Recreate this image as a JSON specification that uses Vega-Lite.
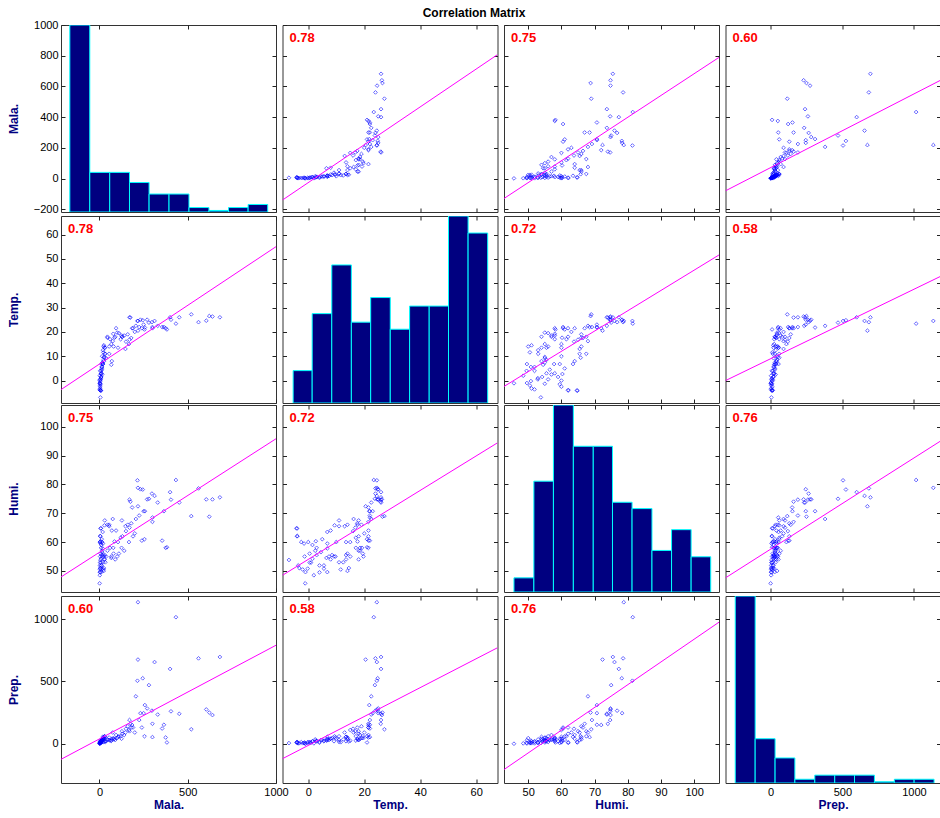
{
"$schema":"https://vega.github.io/schema/vega-lite/v6.json",
"padding":{"left":6,"top":6,"right":0,"bottom":0},
"background":"#ffffff",
"title":{"text":"Correlation Matrix","anchor":"middle","frame":"bounds","offset":-1,"dx":0,"color":"#000000","font":"Liberation Sans","fontSize":12,"fontWeight":"bold"},
"config":{
 "view":{"stroke":"#333333","strokeWidth":1},
 "axis":{"domain":false,"grid":false,"tickSize":-4,"tickColor":"#222222","labelPadding":7,"labelFont":"Liberation Sans","labelFontSize":11,"labelColor":"#000000","titleFont":"Liberation Sans","titleFontSize":12,"titleFontWeight":"bold","titleColor":"#000080","labelFlush":false,"labelOverlap":false,"minExtent":0,"format":"d"},
 "title":{"anchor":"start","frame":"group","offset":-20,"dx":7,"color":"#ff0000","font":"Liberation Sans","fontSize":13,"fontWeight":"bold"}
},
"datasets":{"obs":[
{"Mala":682,"Temp":26,"Humi":75.5,"Prep":696},{"Mala":640,"Temp":26.3,"Humi":74.8,"Prep":230},{"Mala":622,"Temp":26.5,"Humi":68.8,"Prep":250},{"Mala":605,"Temp":24.6,"Humi":74.8,"Prep":275},{"Mala":561,"Temp":24,"Humi":78.6,"Prep":685},
{"Mala":520,"Temp":27.2,"Humi":69,"Prep":116},{"Mala":452,"Temp":26,"Humi":73.7,"Prep":240},{"Mala":433,"Temp":23.4,"Humi":81.5,"Prep":1015},{"Mala":400,"Temp":26,"Humi":77.3,"Prep":600},{"Mala":405,"Temp":25,"Humi":74.7,"Prep":260},
{"Mala":382,"Temp":21,"Humi":58.2,"Prep":10},{"Mala":375,"Temp":21.5,"Humi":58,"Prep":50},{"Mala":355,"Temp":22,"Humi":60.5,"Prep":122},{"Mala":365,"Temp":22,"Humi":70.7,"Prep":152},{"Mala":330,"Temp":22.5,"Humi":73.7,"Prep":234},
{"Mala":312,"Temp":24.5,"Humi":76,"Prep":655},{"Mala":300,"Temp":21.5,"Humi":67,"Prep":160},{"Mala":297,"Temp":24,"Humi":76.8,"Prep":265},{"Mala":300,"Temp":22,"Humi":68.5,"Prep":53},{"Mala":280,"Temp":23.8,"Humi":75,"Prep":470},
{"Mala":270,"Temp":25,"Humi":74.8,"Prep":283},{"Mala":257,"Temp":21.8,"Humi":70.7,"Prep":310},{"Mala":250,"Temp":23,"Humi":70.7,"Prep":245},{"Mala":245,"Temp":24.8,"Humi":78.2,"Prep":525},{"Mala":240,"Temp":21.5,"Humi":60.5,"Prep":130},
{"Mala":232,"Temp":25,"Humi":78.3,"Prep":245},{"Mala":225,"Temp":22,"Humi":69.2,"Prep":190},{"Mala":218,"Temp":24.5,"Humi":78.8,"Prep":1135},{"Mala":215,"Temp":24.5,"Humi":81.4,"Prep":505},{"Mala":218,"Temp":20.5,"Humi":72.4,"Prep":675},
{"Mala":206,"Temp":22.5,"Humi":68,"Prep":380},{"Mala":185,"Temp":21.5,"Humi":72,"Prep":150},{"Mala":175,"Temp":25.9,"Humi":74,"Prep":160},{"Mala":170,"Temp":26,"Humi":74.7,"Prep":190},{"Mala":255,"Temp":21,"Humi":61,"Prep":60},
{"Mala":200,"Temp":20,"Humi":63,"Prep":90},{"Mala":190,"Temp":21.5,"Humi":62,"Prep":130},{"Mala":170,"Temp":16.8,"Humi":65,"Prep":100},{"Mala":167,"Temp":15,"Humi":60,"Prep":110},{"Mala":147,"Temp":13,"Humi":65.5,"Prep":90},
{"Mala":140,"Temp":18.5,"Humi":57,"Prep":70},{"Mala":130,"Temp":18,"Humi":62,"Prep":80},{"Mala":125,"Temp":18.5,"Humi":58,"Prep":40},{"Mala":120,"Temp":17,"Humi":61.5,"Prep":60},{"Mala":127,"Temp":18,"Humi":67.5,"Prep":100},
{"Mala":110,"Temp":19.5,"Humi":56,"Prep":60},{"Mala":100,"Temp":19.7,"Humi":55,"Prep":45},{"Mala":105,"Temp":13.5,"Humi":60,"Prep":55},{"Mala":94,"Temp":21.5,"Humi":64,"Prep":70},{"Mala":89,"Temp":18,"Humi":54,"Prep":30},
{"Mala":85,"Temp":17.6,"Humi":60.2,"Prep":40},{"Mala":80,"Temp":14,"Humi":56,"Prep":35},{"Mala":78,"Temp":19.2,"Humi":58,"Prep":45},{"Mala":70,"Temp":8,"Humi":64,"Prep":40},{"Mala":67,"Temp":6.5,"Humi":54.5,"Prep":25},
{"Mala":67,"Temp":15,"Humi":55,"Prep":25},{"Mala":75,"Temp":16.2,"Humi":68,"Prep":90},{"Mala":60,"Temp":17,"Humi":58,"Prep":25},{"Mala":55,"Temp":14,"Humi":66,"Prep":50},{"Mala":55,"Temp":11,"Humi":65.5,"Prep":30},
{"Mala":45,"Temp":17.6,"Humi":66,"Prep":35},{"Mala":45,"Temp":18,"Humi":57,"Prep":30},{"Mala":38,"Temp":9.2,"Humi":55,"Prep":20},{"Mala":33,"Temp":11,"Humi":53,"Prep":15},{"Mala":30,"Temp":13.5,"Humi":55.5,"Prep":20},
{"Mala":25,"Temp":14.5,"Humi":51,"Prep":18},{"Mala":22,"Temp":11.6,"Humi":50.5,"Prep":12},{"Mala":150,"Temp":16,"Humi":63.8,"Prep":120},{"Mala":160,"Temp":19,"Humi":66,"Prep":140},{"Mala":180,"Temp":17.5,"Humi":66.5,"Prep":130},
{"Mala":5,"Temp":-6.9,"Humi":53.8,"Prep":5},{"Mala":8,"Temp":-4.2,"Humi":64.8,"Prep":10},{"Mala":3,"Temp":-3.9,"Humi":62.1,"Prep":8},{"Mala":2,"Temp":-3.6,"Humi":51.9,"Prep":3},{"Mala":4,"Temp":-2.5,"Humi":60,"Prep":12},
{"Mala":6,"Temp":-1.5,"Humi":59.5,"Prep":6},{"Mala":2,"Temp":0,"Humi":60,"Prep":15},{"Mala":10,"Temp":1.5,"Humi":59,"Prep":20},{"Mala":7,"Temp":2.7,"Humi":60.3,"Prep":25},{"Mala":1,"Temp":-1.1,"Humi":45.7,"Prep":0},
{"Mala":3,"Temp":-2,"Humi":50.5,"Prep":4},{"Mala":2,"Temp":-1,"Humi":49.6,"Prep":2},{"Mala":5,"Temp":-0.2,"Humi":50.8,"Prep":7},{"Mala":4,"Temp":-1.3,"Humi":55,"Prep":10},{"Mala":6,"Temp":0.5,"Humi":56,"Prep":14},
{"Mala":9,"Temp":1.5,"Humi":54.2,"Prep":18},{"Mala":12,"Temp":3,"Humi":55.5,"Prep":22},{"Mala":14,"Temp":4.5,"Humi":56.5,"Prep":30},{"Mala":3,"Temp":0.5,"Humi":52.9,"Prep":5},{"Mala":8,"Temp":1,"Humi":52.9,"Prep":9},
{"Mala":10,"Temp":4,"Humi":51.9,"Prep":16},{"Mala":12,"Temp":5.6,"Humi":51.9,"Prep":20},{"Mala":15,"Temp":5.6,"Humi":50.8,"Prep":25},{"Mala":11,"Temp":6.8,"Humi":49.6,"Prep":28},{"Mala":18,"Temp":6.8,"Humi":57.8,"Prep":35},
{"Mala":20,"Temp":6.8,"Humi":59.5,"Prep":40},{"Mala":16,"Temp":7.4,"Humi":55,"Prep":30},{"Mala":22,"Temp":8.5,"Humi":55.5,"Prep":45},{"Mala":25,"Temp":9.7,"Humi":55,"Prep":50},{"Mala":28,"Temp":9.4,"Humi":65.8,"Prep":60},
{"Mala":18,"Temp":6.8,"Humi":63.5,"Prep":55},{"Mala":20,"Temp":12.5,"Humi":53,"Prep":35},{"Mala":15,"Temp":10,"Humi":60,"Prep":40},{"Mala":9,"Temp":3,"Humi":58,"Prep":20},{"Mala":13,"Temp":5,"Humi":61,"Prep":30},
{"Mala":6,"Temp":-4,"Humi":62,"Prep":10},{"Mala":7,"Temp":-4,"Humi":64.7,"Prep":15},{"Mala":4,"Temp":-3.2,"Humi":51,"Prep":4},{"Mala":24,"Temp":14,"Humi":50,"Prep":45},{"Mala":30,"Temp":13.5,"Humi":54,"Prep":55},
{"Mala":26,"Temp":8,"Humi":54,"Prep":40},{"Mala":2,"Temp":2,"Humi":48.5,"Prep":3},{"Mala":4,"Temp":4,"Humi":49.5,"Prep":8},{"Mala":15,"Temp":2.5,"Humi":57,"Prep":35},{"Mala":30,"Temp":11,"Humi":67.5,"Prep":60}
]},
"vconcat":[
{"hconcat":[
 {"width":215,"height":187,"layer":[
  {"data":{"values":[{"lo":-168,"hi":-55,"n":1000},{"lo":-55,"hi":58,"n":40},{"lo":58,"hi":170,"n":40},{"lo":170,"hi":281,"n":-26},{"lo":281,"hi":394,"n":-101},{"lo":394,"hi":507,"n":-101},{"lo":507,"hi":620,"n":-189},{"lo":620,"hi":731,"n":-208},{"lo":731,"hi":842,"n":-189},{"lo":842,"hi":953,"n":-169}]},
   "mark":{"type":"bar","color":"#000080","stroke":"#00ffff","strokeWidth":1,"clip":true},
   "encoding":{"x":{"field":"lo","type":"quantitative","scale":{"domain":[-218,1000],"nice":false,"zero":false},"axis":{"orient":"bottom","values":[0,500,1000],"labels":false,"title":null}},"x2":{"field":"hi"},
    "y":{"field":"n","type":"quantitative","scale":{"domain":[-218,1000],"nice":false,"zero":false},"axis":{"orient":"left","values":[-200,0,200,400,600,800,1000],"title":"Mala.","minExtent":37,"maxExtent":37,"titlePadding":4}},"y2":{"datum":-218}}},
  {"data":{"values":[{"lo":-168,"n":1000}]},"mark":{"type":"tick","opacity":0},
   "encoding":{"x":{"field":"lo","type":"quantitative","scale":{"domain":[-218,1000],"nice":false,"zero":false},"axis":{"orient":"top","values":[0,500,1000],"labels":false,"title":null}},
    "y":{"field":"n","type":"quantitative","scale":{"domain":[-218,1000],"nice":false,"zero":false},"axis":{"orient":"right","values":[-200,0,200,400,600,800,1000],"labels":false,"title":null}}}}
 ],"resolve":{"axis":{"x":"independent","y":"independent"}}},
 {"width":215,"height":187,"title":"0.78","layer":[
  {"data":{"name":"obs"},"mark":{"type":"point","shape":"diamond","size":14,"filled":false,"color":"#0000ff","opacity":0.6,"strokeWidth":1,"clip":true},
   "encoding":{"x":{"field":"Temp","type":"quantitative","scale":{"domain":[-9.2,67.6],"nice":false,"zero":false},"axis":{"orient":"bottom","values":[0,20,40,60],"labels":false,"title":null}},
    "y":{"field":"Mala","type":"quantitative","scale":{"domain":[-218,1000],"nice":false,"zero":false},"axis":{"orient":"left","values":[-200,0,200,400,600,800,1000],"labels":false,"title":null}}}},
  {"data":{"values":[{"Temp":-9.2,"Mala":-140},{"Temp":67.6,"Mala":807}]},"mark":{"type":"line","color":"#ff00ff","strokeWidth":1,"clip":true},
   "encoding":{"x":{"field":"Temp","type":"quantitative","scale":{"domain":[-9.2,67.6],"nice":false,"zero":false},"axis":{"orient":"top","values":[0,20,40,60],"labels":false,"title":null}},
    "y":{"field":"Mala","type":"quantitative","scale":{"domain":[-218,1000],"nice":false,"zero":false},"axis":{"orient":"right","values":[-200,0,200,400,600,800,1000],"labels":false,"title":null}}}}
 ],"resolve":{"axis":{"x":"independent","y":"independent"}}},
 {"width":215,"height":187,"title":"0.75","layer":[
  {"data":{"name":"obs"},"mark":{"type":"point","shape":"diamond","size":14,"filled":false,"color":"#0000ff","opacity":0.6,"strokeWidth":1,"clip":true},
   "encoding":{"x":{"field":"Humi","type":"quantitative","scale":{"domain":[42.7,107.5],"nice":false,"zero":false},"axis":{"orient":"bottom","values":[50,60,70,80,90,100],"labels":false,"title":null}},
    "y":{"field":"Mala","type":"quantitative","scale":{"domain":[-218,1000],"nice":false,"zero":false},"axis":{"orient":"left","values":[-200,0,200,400,600,800,1000],"labels":false,"title":null}}}},
  {"data":{"values":[{"Humi":42.7,"Mala":-130},{"Humi":107.5,"Mala":789}]},"mark":{"type":"line","color":"#ff00ff","strokeWidth":1,"clip":true},
   "encoding":{"x":{"field":"Humi","type":"quantitative","scale":{"domain":[42.7,107.5],"nice":false,"zero":false},"axis":{"orient":"top","values":[50,60,70,80,90,100],"labels":false,"title":null}},
    "y":{"field":"Mala","type":"quantitative","scale":{"domain":[-218,1000],"nice":false,"zero":false},"axis":{"orient":"right","values":[-200,0,200,400,600,800,1000],"labels":false,"title":null}}}}
 ],"resolve":{"axis":{"x":"independent","y":"independent"}}},
 {"width":215,"height":187,"title":"0.60","layer":[
  {"data":{"name":"obs"},"mark":{"type":"point","shape":"diamond","size":14,"filled":false,"color":"#0000ff","opacity":0.6,"strokeWidth":1,"clip":true},
   "encoding":{"x":{"field":"Prep","type":"quantitative","scale":{"domain":[-315,1185],"nice":false,"zero":false},"axis":{"orient":"bottom","values":[0,500,1000],"labels":false,"title":null}},
    "y":{"field":"Mala","type":"quantitative","scale":{"domain":[-218,1000],"nice":false,"zero":false},"axis":{"orient":"left","values":[-200,0,200,400,600,800,1000],"labels":false,"title":null}}}},
  {"data":{"values":[{"Prep":-315,"Mala":-80},{"Prep":1185,"Mala":640}]},"mark":{"type":"line","color":"#ff00ff","strokeWidth":1,"clip":true},
   "encoding":{"x":{"field":"Prep","type":"quantitative","scale":{"domain":[-315,1185],"nice":false,"zero":false},"axis":{"orient":"top","values":[0,500,1000],"labels":false,"title":null}},
    "y":{"field":"Mala","type":"quantitative","scale":{"domain":[-218,1000],"nice":false,"zero":false},"axis":{"orient":"right","values":[-200,0,200,400,600,800,1000],"labels":false,"title":null}}}}
 ],"resolve":{"axis":{"x":"independent","y":"independent"}}}
],"spacing":6.5,"bounds":"flush"},
{"hconcat":[
 {"width":215,"height":187,"title":"0.78","layer":[
  {"data":{"name":"obs"},"mark":{"type":"point","shape":"diamond","size":14,"filled":false,"color":"#0000ff","opacity":0.6,"strokeWidth":1,"clip":true},
   "encoding":{"x":{"field":"Mala","type":"quantitative","scale":{"domain":[-218,1000],"nice":false,"zero":false},"axis":{"orient":"bottom","values":[0,500,1000],"labels":false,"title":null}},
    "y":{"field":"Temp","type":"quantitative","scale":{"domain":[-9.2,67.6],"nice":false,"zero":false},"axis":{"orient":"left","values":[0,10,20,30,40,50,60],"title":"Temp.","minExtent":37,"maxExtent":37,"titlePadding":4}}}},
  {"data":{"values":[{"Mala":-218,"Temp":-3.7},{"Mala":1000,"Temp":55}]},"mark":{"type":"line","color":"#ff00ff","strokeWidth":1,"clip":true},
   "encoding":{"x":{"field":"Mala","type":"quantitative","scale":{"domain":[-218,1000],"nice":false,"zero":false},"axis":{"orient":"top","values":[0,500,1000],"labels":false,"title":null}},
    "y":{"field":"Temp","type":"quantitative","scale":{"domain":[-9.2,67.6],"nice":false,"zero":false},"axis":{"orient":"right","values":[0,10,20,30,40,50,60],"labels":false,"title":null}}}}
 ],"resolve":{"axis":{"x":"independent","y":"independent"}}},
 {"width":215,"height":187,"layer":[
  {"data":{"values":[{"lo":-5.4,"hi":1.4,"n":4.1},{"lo":1.4,"hi":8.4,"n":27.5},{"lo":8.4,"hi":15.4,"n":47.5},{"lo":15.4,"hi":22.3,"n":24},{"lo":22.3,"hi":29.3,"n":34.1},{"lo":29.3,"hi":36.2,"n":21.1},{"lo":36.2,"hi":43.2,"n":30.6},{"lo":43.2,"hi":50.1,"n":30.6},{"lo":50.1,"hi":57.1,"n":67.6},{"lo":57.1,"hi":64.1,"n":60.6}]},
   "mark":{"type":"bar","color":"#000080","stroke":"#00ffff","strokeWidth":1,"clip":true},
   "encoding":{"x":{"field":"lo","type":"quantitative","scale":{"domain":[-9.2,67.6],"nice":false,"zero":false},"axis":{"orient":"bottom","values":[0,20,40,60],"labels":false,"title":null}},"x2":{"field":"hi"},
    "y":{"field":"n","type":"quantitative","scale":{"domain":[-9.2,67.6],"nice":false,"zero":false},"axis":{"orient":"left","values":[0,10,20,30,40,50,60],"labels":false,"title":null}},"y2":{"datum":-9.2}}},
  {"data":{"values":[{"lo":-5.4,"n":4.1}]},"mark":{"type":"tick","opacity":0},
   "encoding":{"x":{"field":"lo","type":"quantitative","scale":{"domain":[-9.2,67.6],"nice":false,"zero":false},"axis":{"orient":"top","values":[0,20,40,60],"labels":false,"title":null}},
    "y":{"field":"n","type":"quantitative","scale":{"domain":[-9.2,67.6],"nice":false,"zero":false},"axis":{"orient":"right","values":[0,10,20,30,40,50,60],"labels":false,"title":null}}}}
 ],"resolve":{"axis":{"x":"independent","y":"independent"}}},
 {"width":215,"height":187,"title":"0.72","layer":[
  {"data":{"name":"obs"},"mark":{"type":"point","shape":"diamond","size":14,"filled":false,"color":"#0000ff","opacity":0.6,"strokeWidth":1,"clip":true},
   "encoding":{"x":{"field":"Humi","type":"quantitative","scale":{"domain":[42.7,107.5],"nice":false,"zero":false},"axis":{"orient":"bottom","values":[50,60,70,80,90,100],"labels":false,"title":null}},
    "y":{"field":"Temp","type":"quantitative","scale":{"domain":[-9.2,67.6],"nice":false,"zero":false},"axis":{"orient":"left","values":[0,10,20,30,40,50,60],"labels":false,"title":null}}}},
  {"data":{"values":[{"Humi":42.7,"Temp":-2.4},{"Humi":107.5,"Temp":51.6}]},"mark":{"type":"line","color":"#ff00ff","strokeWidth":1,"clip":true},
   "encoding":{"x":{"field":"Humi","type":"quantitative","scale":{"domain":[42.7,107.5],"nice":false,"zero":false},"axis":{"orient":"top","values":[50,60,70,80,90,100],"labels":false,"title":null}},
    "y":{"field":"Temp","type":"quantitative","scale":{"domain":[-9.2,67.6],"nice":false,"zero":false},"axis":{"orient":"right","values":[0,10,20,30,40,50,60],"labels":false,"title":null}}}}
 ],"resolve":{"axis":{"x":"independent","y":"independent"}}},
 {"width":215,"height":187,"title":"0.58","layer":[
  {"data":{"name":"obs"},"mark":{"type":"point","shape":"diamond","size":14,"filled":false,"color":"#0000ff","opacity":0.6,"strokeWidth":1,"clip":true},
   "encoding":{"x":{"field":"Prep","type":"quantitative","scale":{"domain":[-315,1185],"nice":false,"zero":false},"axis":{"orient":"bottom","values":[0,500,1000],"labels":false,"title":null}},
    "y":{"field":"Temp","type":"quantitative","scale":{"domain":[-9.2,67.6],"nice":false,"zero":false},"axis":{"orient":"left","values":[0,10,20,30,40,50,60],"labels":false,"title":null}}}},
  {"data":{"values":[{"Prep":-315,"Temp":0},{"Prep":1185,"Temp":42.8}]},"mark":{"type":"line","color":"#ff00ff","strokeWidth":1,"clip":true},
   "encoding":{"x":{"field":"Prep","type":"quantitative","scale":{"domain":[-315,1185],"nice":false,"zero":false},"axis":{"orient":"top","values":[0,500,1000],"labels":false,"title":null}},
    "y":{"field":"Temp","type":"quantitative","scale":{"domain":[-9.2,67.6],"nice":false,"zero":false},"axis":{"orient":"right","values":[0,10,20,30,40,50,60],"labels":false,"title":null}}}}
 ],"resolve":{"axis":{"x":"independent","y":"independent"}}}
],"spacing":6.5,"bounds":"flush"},
{"hconcat":[
 {"width":215,"height":187,"title":"0.75","layer":[
  {"data":{"name":"obs"},"mark":{"type":"point","shape":"diamond","size":14,"filled":false,"color":"#0000ff","opacity":0.6,"strokeWidth":1,"clip":true},
   "encoding":{"x":{"field":"Mala","type":"quantitative","scale":{"domain":[-218,1000],"nice":false,"zero":false},"axis":{"orient":"bottom","values":[0,500,1000],"labels":false,"title":null}},
    "y":{"field":"Humi","type":"quantitative","scale":{"domain":[42.7,107.5],"nice":false,"zero":false},"axis":{"orient":"left","values":[50,60,70,80,90,100],"title":"Humi.","minExtent":37,"maxExtent":37,"titlePadding":4}}}},
  {"data":{"values":[{"Mala":-218,"Humi":47.9},{"Mala":1000,"Humi":95.8}]},"mark":{"type":"line","color":"#ff00ff","strokeWidth":1,"clip":true},
   "encoding":{"x":{"field":"Mala","type":"quantitative","scale":{"domain":[-218,1000],"nice":false,"zero":false},"axis":{"orient":"top","values":[0,500,1000],"labels":false,"title":null}},
    "y":{"field":"Humi","type":"quantitative","scale":{"domain":[42.7,107.5],"nice":false,"zero":false},"axis":{"orient":"right","values":[50,60,70,80,90,100],"labels":false,"title":null}}}}
 ],"resolve":{"axis":{"x":"independent","y":"independent"}}},
 {"width":215,"height":187,"title":"0.72","layer":[
  {"data":{"name":"obs"},"mark":{"type":"point","shape":"diamond","size":14,"filled":false,"color":"#0000ff","opacity":0.6,"strokeWidth":1,"clip":true},
   "encoding":{"x":{"field":"Temp","type":"quantitative","scale":{"domain":[-9.2,67.6],"nice":false,"zero":false},"axis":{"orient":"bottom","values":[0,20,40,60],"labels":false,"title":null}},
    "y":{"field":"Humi","type":"quantitative","scale":{"domain":[42.7,107.5],"nice":false,"zero":false},"axis":{"orient":"left","values":[50,60,70,80,90,100],"labels":false,"title":null}}}},
  {"data":{"values":[{"Temp":-9.2,"Humi":48.5},{"Temp":67.6,"Humi":94.4}]},"mark":{"type":"line","color":"#ff00ff","strokeWidth":1,"clip":true},
   "encoding":{"x":{"field":"Temp","type":"quantitative","scale":{"domain":[-9.2,67.6],"nice":false,"zero":false},"axis":{"orient":"top","values":[0,20,40,60],"labels":false,"title":null}},
    "y":{"field":"Humi","type":"quantitative","scale":{"domain":[42.7,107.5],"nice":false,"zero":false},"axis":{"orient":"right","values":[50,60,70,80,90,100],"labels":false,"title":null}}}}
 ],"resolve":{"axis":{"x":"independent","y":"independent"}}},
 {"width":215,"height":187,"layer":[
  {"data":{"values":[{"lo":45.7,"hi":51.7,"n":47.6},{"lo":51.7,"hi":57.6,"n":81.1},{"lo":57.6,"hi":63.6,"n":107.5},{"lo":63.6,"hi":69.6,"n":93.2},{"lo":69.6,"hi":75.4,"n":93.2},{"lo":75.4,"hi":81.3,"n":73.8},{"lo":81.3,"hi":87.3,"n":71.6},{"lo":87.3,"hi":93.2,"n":57.1},{"lo":93.2,"hi":99.1,"n":64.3},{"lo":99.1,"hi":105,"n":54.9}]},
   "mark":{"type":"bar","color":"#000080","stroke":"#00ffff","strokeWidth":1,"clip":true},
   "encoding":{"x":{"field":"lo","type":"quantitative","scale":{"domain":[42.7,107.5],"nice":false,"zero":false},"axis":{"orient":"bottom","values":[50,60,70,80,90,100],"labels":false,"title":null}},"x2":{"field":"hi"},
    "y":{"field":"n","type":"quantitative","scale":{"domain":[42.7,107.5],"nice":false,"zero":false},"axis":{"orient":"left","values":[50,60,70,80,90,100],"labels":false,"title":null}},"y2":{"datum":42.7}}},
  {"data":{"values":[{"lo":45.7,"n":47.6}]},"mark":{"type":"tick","opacity":0},
   "encoding":{"x":{"field":"lo","type":"quantitative","scale":{"domain":[42.7,107.5],"nice":false,"zero":false},"axis":{"orient":"top","values":[50,60,70,80,90,100],"labels":false,"title":null}},
    "y":{"field":"n","type":"quantitative","scale":{"domain":[42.7,107.5],"nice":false,"zero":false},"axis":{"orient":"right","values":[50,60,70,80,90,100],"labels":false,"title":null}}}}
 ],"resolve":{"axis":{"x":"independent","y":"independent"}}},
 {"width":215,"height":187,"title":"0.76","layer":[
  {"data":{"name":"obs"},"mark":{"type":"point","shape":"diamond","size":14,"filled":false,"color":"#0000ff","opacity":0.6,"strokeWidth":1,"clip":true},
   "encoding":{"x":{"field":"Prep","type":"quantitative","scale":{"domain":[-315,1185],"nice":false,"zero":false},"axis":{"orient":"bottom","values":[0,500,1000],"labels":false,"title":null}},
    "y":{"field":"Humi","type":"quantitative","scale":{"domain":[42.7,107.5],"nice":false,"zero":false},"axis":{"orient":"left","values":[50,60,70,80,90,100],"labels":false,"title":null}}}},
  {"data":{"values":[{"Prep":-315,"Humi":47.6},{"Prep":1185,"Humi":95}]},"mark":{"type":"line","color":"#ff00ff","strokeWidth":1,"clip":true},
   "encoding":{"x":{"field":"Prep","type":"quantitative","scale":{"domain":[-315,1185],"nice":false,"zero":false},"axis":{"orient":"top","values":[0,500,1000],"labels":false,"title":null}},
    "y":{"field":"Humi","type":"quantitative","scale":{"domain":[42.7,107.5],"nice":false,"zero":false},"axis":{"orient":"right","values":[50,60,70,80,90,100],"labels":false,"title":null}}}}
 ],"resolve":{"axis":{"x":"independent","y":"independent"}}}
],"spacing":6.5,"bounds":"flush"},
{"hconcat":[
 {"width":215,"height":187,"title":"0.60","layer":[
  {"data":{"name":"obs"},"mark":{"type":"point","shape":"diamond","size":14,"filled":false,"color":"#0000ff","opacity":0.6,"strokeWidth":1,"clip":true},
   "encoding":{"x":{"field":"Mala","type":"quantitative","scale":{"domain":[-218,1000],"nice":false,"zero":false},"axis":{"orient":"bottom","values":[0,500,1000],"title":"Mala.","titlePadding":2}},
    "y":{"field":"Prep","type":"quantitative","scale":{"domain":[-315,1185],"nice":false,"zero":false},"axis":{"orient":"left","values":[0,500,1000],"title":"Prep.","minExtent":37,"maxExtent":37,"titlePadding":4}}}},
  {"data":{"values":[{"Mala":-218,"Prep":-125},{"Mala":1000,"Prep":790}]},"mark":{"type":"line","color":"#ff00ff","strokeWidth":1,"clip":true},
   "encoding":{"x":{"field":"Mala","type":"quantitative","scale":{"domain":[-218,1000],"nice":false,"zero":false},"axis":{"orient":"top","values":[0,500,1000],"labels":false,"title":null}},
    "y":{"field":"Prep","type":"quantitative","scale":{"domain":[-315,1185],"nice":false,"zero":false},"axis":{"orient":"right","values":[0,500,1000],"labels":false,"title":null}}}}
 ],"resolve":{"axis":{"x":"independent","y":"independent"}}},
 {"width":215,"height":187,"title":"0.58","layer":[
  {"data":{"name":"obs"},"mark":{"type":"point","shape":"diamond","size":14,"filled":false,"color":"#0000ff","opacity":0.6,"strokeWidth":1,"clip":true},
   "encoding":{"x":{"field":"Temp","type":"quantitative","scale":{"domain":[-9.2,67.6],"nice":false,"zero":false},"axis":{"orient":"bottom","values":[0,20,40,60],"title":"Temp.","titlePadding":2}},
    "y":{"field":"Prep","type":"quantitative","scale":{"domain":[-315,1185],"nice":false,"zero":false},"axis":{"orient":"left","values":[0,500,1000],"labels":false,"title":null}}}},
  {"data":{"values":[{"Temp":-9.2,"Prep":-120},{"Temp":67.6,"Prep":770}]},"mark":{"type":"line","color":"#ff00ff","strokeWidth":1,"clip":true},
   "encoding":{"x":{"field":"Temp","type":"quantitative","scale":{"domain":[-9.2,67.6],"nice":false,"zero":false},"axis":{"orient":"top","values":[0,20,40,60],"labels":false,"title":null}},
    "y":{"field":"Prep","type":"quantitative","scale":{"domain":[-315,1185],"nice":false,"zero":false},"axis":{"orient":"right","values":[0,500,1000],"labels":false,"title":null}}}}
 ],"resolve":{"axis":{"x":"independent","y":"independent"}}},
 {"width":215,"height":187,"title":"0.76","layer":[
  {"data":{"name":"obs"},"mark":{"type":"point","shape":"diamond","size":14,"filled":false,"color":"#0000ff","opacity":0.6,"strokeWidth":1,"clip":true},
   "encoding":{"x":{"field":"Humi","type":"quantitative","scale":{"domain":[42.7,107.5],"nice":false,"zero":false},"axis":{"orient":"bottom","values":[50,60,70,80,90,100],"title":"Humi.","titlePadding":2}},
    "y":{"field":"Prep","type":"quantitative","scale":{"domain":[-315,1185],"nice":false,"zero":false},"axis":{"orient":"left","values":[0,500,1000],"labels":false,"title":null}}}},
  {"data":{"values":[{"Humi":42.7,"Prep":-207},{"Humi":107.5,"Prep":975}]},"mark":{"type":"line","color":"#ff00ff","strokeWidth":1,"clip":true},
   "encoding":{"x":{"field":"Humi","type":"quantitative","scale":{"domain":[42.7,107.5],"nice":false,"zero":false},"axis":{"orient":"top","values":[50,60,70,80,90,100],"labels":false,"title":null}},
    "y":{"field":"Prep","type":"quantitative","scale":{"domain":[-315,1185],"nice":false,"zero":false},"axis":{"orient":"right","values":[0,500,1000],"labels":false,"title":null}}}}
 ],"resolve":{"axis":{"x":"independent","y":"independent"}}},
 {"width":215,"height":187,"layer":[
  {"data":{"values":[{"lo":-247,"hi":-108,"n":1185},{"lo":-108,"hi":31,"n":40},{"lo":31,"hi":169,"n":-114},{"lo":169,"hi":308,"n":-285},{"lo":308,"hi":447,"n":-252},{"lo":447,"hi":585,"n":-252},{"lo":585,"hi":724,"n":-252},{"lo":724,"hi":863,"n":-305},{"lo":863,"hi":1001,"n":-285},{"lo":1001,"hi":1140,"n":-285}]},
   "mark":{"type":"bar","color":"#000080","stroke":"#00ffff","strokeWidth":1,"clip":true},
   "encoding":{"x":{"field":"lo","type":"quantitative","scale":{"domain":[-315,1185],"nice":false,"zero":false},"axis":{"orient":"bottom","values":[0,500,1000],"title":"Prep.","titlePadding":2}},"x2":{"field":"hi"},
    "y":{"field":"n","type":"quantitative","scale":{"domain":[-315,1185],"nice":false,"zero":false},"axis":{"orient":"left","values":[0,500,1000],"labels":false,"title":null}},"y2":{"datum":-315}}},
  {"data":{"values":[{"lo":-247,"n":1185}]},"mark":{"type":"tick","opacity":0},
   "encoding":{"x":{"field":"lo","type":"quantitative","scale":{"domain":[-315,1185],"nice":false,"zero":false},"axis":{"orient":"top","values":[0,500,1000],"labels":false,"title":null}},
    "y":{"field":"n","type":"quantitative","scale":{"domain":[-315,1185],"nice":false,"zero":false},"axis":{"orient":"right","values":[0,500,1000],"labels":false,"title":null}}}}
 ],"resolve":{"axis":{"x":"independent","y":"independent"}}}
],"spacing":6.5,"bounds":"flush"}
],"spacing":0
}
